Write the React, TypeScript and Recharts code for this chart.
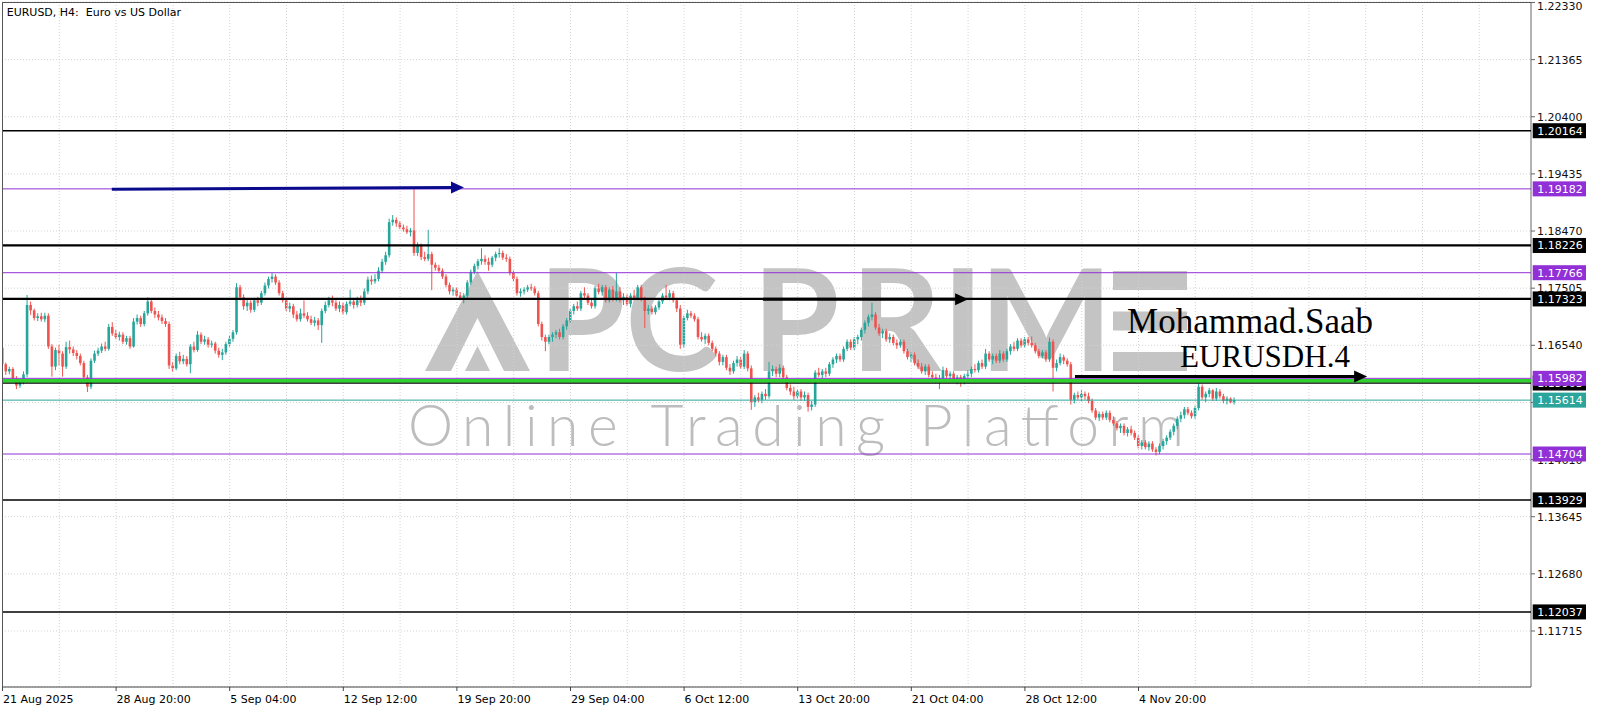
import React from "react";
import { ComposedChart, Bar, XAxis, YAxis, CartesianGrid, ReferenceLine } from "recharts";

const W = 1600;
const H = 711;
const FONT = "DejaVu Sans";
const BULL = "#26a69a";
const BEAR = "#ef5350";
const PURPLE = "#9130d6";
const TEAL = "#2ba59b";
const GREEN = "#2ed12e";
const NAVY = "#0a0a8c";
const MARK = "#c4c4c4";

// EURUSD H4 candles, price in pips above 1.1000
const OPEN = [
  650, 622, 610, 614, 598, 586, 592, 605, 722, 713, 700, 703, 698, 704, 652, 618,
  646, 640, 618, 651, 647, 641, 636, 624, 600, 584, 628, 640, 645, 652, 648, 685,
  674, 668, 672, 660, 666, 652, 694, 700, 690, 708, 728, 712, 706, 701, 695, 690,
  620, 615, 636, 627, 631, 622, 652, 646, 672, 660, 664, 655, 657, 645, 638, 642,
  656, 665, 676, 752, 735, 720, 726, 714, 730, 726, 742, 755, 766, 770, 760, 742,
  730, 716, 720, 706, 698, 708, 704, 698, 692, 696, 688, 712, 722, 730, 726, 716,
  722, 710, 724, 728, 722, 730, 726, 745, 765, 762, 766, 780, 795, 806, 862, 866,
  860, 853, 850, 845, 848, 810, 822, 803, 800, 808, 790, 785, 780, 770, 756, 745,
  748, 738, 734, 738, 760, 778, 788, 796, 800, 795, 790, 802, 808, 810, 802, 800,
  776, 766, 742, 745, 748, 752, 750, 742, 690, 668, 660, 668, 672, 676, 668, 686,
  696, 712, 720, 716, 742, 738, 726, 720, 750, 744, 752, 730, 748, 732, 745, 730,
  736, 724, 738, 734, 752, 732, 712, 716, 710, 718, 728, 738, 735, 742, 730, 716,
  655, 700, 708, 704, 698, 668, 664, 670, 658, 648, 640, 626, 634, 616, 610, 624,
  630, 618, 640, 615, 558, 566, 562, 572, 568, 610, 614, 606, 616, 600, 582, 576,
  568, 576, 566, 570, 550, 554, 608, 604, 610, 606, 622, 630, 636, 630, 648, 660,
  650, 664, 668, 680, 692, 702, 706, 684, 674, 678, 664, 668, 658, 654, 660, 644,
  634, 638, 624, 618, 610, 618, 604, 600, 594, 598, 612, 602, 606, 596, 600, 592,
  602, 606, 614, 612, 624, 618, 640, 630, 636, 628, 640, 630, 644, 652, 648, 662,
  654, 664, 658, 654, 644, 636, 642, 630, 660, 616, 624, 634, 628, 622, 562, 570,
  566, 572, 568, 560, 544, 532, 538, 532, 540, 528, 522, 514, 518, 506, 512, 506,
  498, 484, 490, 482, 488, 478, 474, 484, 492, 498, 508, 518, 530, 536, 546, 540,
  534, 548, 584, 566, 572, 578, 564, 576, 568, 560, 564, 558,
];
const HIGH = [
  655, 625, 618, 617, 602, 596, 610, 739, 728, 716, 708, 709, 709, 708, 656, 650,
  655, 644, 660, 662, 652, 646, 640, 628, 604, 632, 645, 650, 657, 660, 690, 693,
  680, 677, 676, 670, 670, 700, 706, 704, 712, 735, 732, 718, 712, 706, 700, 694,
  626, 640, 643, 638, 636, 656, 660, 678, 676, 670, 668, 662, 660, 650, 648, 660,
  670, 680, 759, 756, 740, 732, 730, 734, 736, 746, 760, 770, 776, 774, 764, 746,
  734, 726, 724, 712, 716, 730, 710, 704, 702, 700, 716, 728, 736, 738, 730, 728,
  726, 728, 748, 734, 736, 738, 750, 770, 772, 774, 786, 800, 812, 868, 874, 870,
  864, 858, 856, 852, 918, 828, 826, 812, 849, 812, 794, 790, 784, 774, 760, 752,
  752, 744, 742, 764, 782, 792, 800, 818, 806, 802, 805, 812, 818, 814, 808, 804,
  780, 770, 750, 752, 756, 758, 754, 746, 694, 672, 672, 676, 680, 682, 690, 700,
  716, 724, 728, 746, 752, 742, 732, 754, 758, 756, 756, 752, 754, 776, 752, 742,
  740, 742, 748, 756, 756, 736, 722, 720, 722, 732, 742, 756, 748, 746, 734, 722,
  704, 714, 712, 708, 702, 676, 674, 674, 662, 652, 644, 638, 638, 622, 628, 636,
  634, 646, 644, 620, 570, 574, 576, 580, 626, 620, 618, 622, 620, 604, 588, 584,
  580, 580, 576, 574, 560, 612, 616, 614, 616, 626, 634, 640, 640, 652, 664, 664,
  668, 672, 684, 696, 706, 726, 710, 690, 682, 682, 674, 672, 664, 664, 664, 648,
  642, 642, 630, 624, 622, 622, 610, 606, 604, 618, 616, 610, 610, 604, 604, 606,
  612, 618, 622, 628, 630, 648, 644, 640, 640, 646, 644, 648, 656, 660, 666, 666,
  668, 668, 669, 658, 648, 646, 646, 667, 664, 630, 640, 638, 632, 626, 574, 576,
  578, 576, 574, 564, 548, 542, 542, 544, 544, 534, 526, 522, 522, 516, 518, 510,
  502, 494, 494, 492, 492, 482, 488, 496, 502, 512, 522, 534, 542, 550, 550, 544,
  552, 590, 588, 576, 582, 580, 582, 580, 572, 568, 566, 566,
];
const LOW = [
  616, 604, 605, 594, 580, 582, 588, 600, 705, 696, 695, 694, 693, 648, 601, 612,
  620, 601, 614, 640, 636, 630, 620, 596, 575, 580, 624, 636, 641, 644, 645, 670,
  664, 662, 656, 655, 648, 650, 689, 685, 686, 704, 708, 700, 696, 690, 685, 614,
  609, 612, 622, 622, 618, 607, 642, 643, 656, 655, 650, 650, 640, 633, 629, 638,
  652, 660, 672, 730, 714, 712, 709, 710, 720, 722, 738, 750, 760, 756, 738, 726,
  712, 710, 700, 694, 694, 700, 694, 688, 686, 680, 658, 708, 718, 720, 712, 710,
  706, 706, 720, 716, 718, 720, 722, 740, 756, 758, 762, 776, 790, 802, 856, 854,
  850, 846, 842, 838, 805, 805, 798, 796, 796, 747, 780, 776, 766, 752, 740, 738,
  735, 730, 725, 734, 756, 774, 782, 790, 790, 780, 786, 796, 802, 798, 795, 772,
  762, 738, 736, 740, 744, 746, 738, 686, 662, 644, 656, 660, 666, 664, 664, 680,
  692, 706, 712, 712, 734, 722, 716, 716, 740, 738, 726, 726, 728, 728, 726, 722,
  720, 718, 730, 730, 728, 683, 706, 706, 706, 714, 724, 732, 730, 726, 710, 648,
  650, 696, 700, 694, 664, 660, 656, 654, 644, 636, 620, 620, 612, 604, 606, 618,
  614, 614, 610, 545, 550, 558, 556, 562, 564, 602, 600, 600, 596, 578, 570, 562,
  564, 560, 560, 542, 544, 550, 600, 598, 600, 602, 616, 624, 626, 626, 644, 646,
  646, 656, 662, 674, 686, 696, 680, 670, 666, 660, 658, 654, 648, 650, 640, 630,
  626, 620, 614, 606, 604, 600, 594, 590, 580, 594, 598, 594, 592, 588, 584, 588,
  596, 600, 608, 608, 614, 614, 626, 622, 624, 624, 626, 626, 638, 644, 644, 650,
  650, 654, 650, 640, 632, 632, 626, 626, 576, 610, 620, 622, 618, 554, 556, 562,
  560, 562, 556, 540, 528, 526, 528, 528, 524, 518, 510, 506, 502, 500, 502, 494,
  480, 478, 478, 476, 474, 468, 470, 478, 486, 494, 502, 512, 524, 530, 536, 530,
  530, 544, 562, 558, 566, 560, 560, 564, 556, 554, 556, 554,
];
const CLOSE = [
  622, 610, 614, 598, 586, 592, 605, 722, 713, 700, 703, 698, 704, 652, 618, 646,
  640, 618, 651, 647, 641, 636, 624, 600, 584, 628, 640, 645, 652, 648, 685, 674,
  668, 672, 660, 666, 652, 694, 700, 690, 708, 728, 712, 706, 701, 695, 690, 620,
  615, 636, 627, 631, 622, 652, 646, 672, 660, 664, 655, 657, 645, 638, 642, 656,
  665, 676, 752, 735, 720, 726, 714, 730, 726, 742, 755, 766, 770, 760, 742, 730,
  716, 720, 706, 698, 708, 704, 698, 692, 696, 688, 712, 722, 730, 726, 716, 722,
  710, 724, 728, 722, 730, 726, 745, 765, 762, 766, 780, 795, 806, 862, 866, 860,
  853, 850, 845, 848, 810, 822, 803, 800, 808, 790, 785, 780, 770, 756, 745, 748,
  738, 734, 738, 760, 778, 788, 796, 800, 795, 790, 802, 808, 810, 802, 800, 776,
  766, 742, 745, 748, 752, 750, 742, 690, 668, 660, 668, 672, 676, 668, 686, 696,
  712, 720, 716, 742, 738, 726, 720, 750, 744, 752, 730, 748, 732, 745, 730, 736,
  724, 738, 734, 752, 732, 712, 716, 710, 718, 728, 738, 735, 742, 730, 716, 655,
  700, 708, 704, 698, 668, 664, 670, 658, 648, 640, 626, 634, 616, 610, 624, 630,
  618, 640, 615, 558, 566, 562, 572, 568, 610, 614, 606, 616, 600, 582, 576, 568,
  576, 566, 570, 550, 554, 608, 604, 610, 606, 622, 630, 636, 630, 648, 660, 650,
  664, 668, 680, 692, 702, 706, 684, 674, 678, 664, 668, 658, 654, 660, 644, 634,
  638, 624, 618, 610, 618, 604, 600, 594, 598, 612, 602, 606, 596, 600, 592, 602,
  606, 614, 612, 624, 618, 640, 630, 636, 628, 640, 630, 644, 652, 648, 662, 654,
  664, 658, 654, 644, 636, 642, 630, 660, 616, 624, 634, 628, 622, 562, 570, 566,
  572, 568, 560, 544, 532, 538, 532, 540, 528, 522, 514, 518, 506, 512, 506, 498,
  484, 490, 482, 488, 478, 474, 484, 492, 498, 508, 518, 530, 536, 546, 540, 534,
  548, 584, 566, 572, 578, 564, 576, 568, 560, 564, 558, 561.4,
];

const TICK_BARS = [0, 32, 64, 96, 128, 160, 192, 224, 256, 288, 320];
const TICK_LABELS = [
  "21 Aug 2025", "28 Aug 20:00", "5 Sep 04:00", "12 Sep 12:00", "19 Sep 20:00",
  "29 Sep 04:00", "6 Oct 12:00", "13 Oct 20:00", "21 Oct 04:00", "28 Oct 12:00", "4 Nov 20:00",
];
const PRICE_TICKS = [
  1.11715, 1.1268, 1.13645, 1.1461, 1.15575, 1.1654, 1.17505, 1.1847, 1.19435, 1.204, 1.21365, 1.2233,
];

// horizontal levels drawn on the chart (bottom to top of the stack)
const LEVEL_PRICES = [
  1.20164, 1.19182, 1.18226, 1.17766, 1.17323, 1.15903, 1.1594, 1.15982, 1.15614, 1.14704, 1.13929, 1.12037,
];
const LEVEL_STYLE: Record<number, { color: string; width: number; tag?: string }> = {
  1.20164: { color: "#000", width: 1.5, tag: "#000" },
  1.19182: { color: PURPLE, width: 1, tag: PURPLE },
  1.18226: { color: "#000", width: 2.2, tag: "#000" },
  1.17766: { color: PURPLE, width: 1, tag: PURPLE },
  1.17323: { color: "#000", width: 2.2, tag: "#000" },
  1.15903: { color: "#000", width: 1.5, tag: "#000" },
  1.1594: { color: GREEN, width: 3.5 },
  1.15982: { color: PURPLE, width: 1, tag: PURPLE },
  1.15614: { color: TEAL, width: 1, tag: TEAL },
  1.14704: { color: PURPLE, width: 1, tag: PURPLE },
  1.13929: { color: "#000", width: 1.5, tag: "#000" },
  1.12037: { color: "#000", width: 1.5, tag: "#000" },
};

// arrows: [bar, price] start and end
const ARROWS = [
  { from: [30.8, 1.19176], to: [130, 1.19206], color: NAVY },
  { from: [214.2, 1.17318], to: [272, 1.17318], color: "#000" },
  { from: [302.1, 1.16011], to: [384.4, 1.16011], color: "#000" },
];

const X_DOMAIN: [number, number] = [-0.14, 430.56];
const Y_DOMAIN: [number, number] = [1.10769, 1.22338];
const GRID_BARS = Array.from({ length: 26 }, (_, k) => (k + 1) * 16);

const pip = (n: number) => 1.1 + n / 10000;

const rows = CLOSE.map((c, i) => ({
  i,
  open: pip(OPEN[i]),
  high: pip(HIGH[i]),
  low: pip(LOW[i]),
  close: pip(c),
  range: [pip(LOW[i]), pip(HIGH[i])],
}));

const Candle = (props: any) => {
  const { x, y, width, height, payload } = props;
  if (x == null || !payload) return null;
  const top = Math.min(y, y + height);
  const h = Math.abs(height);
  const { open, close, high, low } = payload;
  const k = high > low ? h / (high - low) : 0;
  const yOf = (p: number) => top + (high - p) * k;
  const bTop = yOf(Math.max(open, close));
  const bBot = yOf(Math.min(open, close));
  const color = close >= open ? BULL : BEAR;
  const cx = x + width / 2;
  return (
    <g>
      <line x1={cx} x2={cx} y1={top} y2={top + h} stroke={color} strokeWidth={1} />
      <rect x={cx - 1.3} y={bTop} width={2.6} height={Math.max(bBot - bTop, 1)} fill={color} />
    </g>
  );
};

const DateTick = (props: any) => {
  const { x, y, payload } = props;
  const k = TICK_BARS.indexOf(payload.value);
  return (
    <text x={x + 0.5} y={y} dy="0.9em" textAnchor="start" fontSize={11} fontFamily={FONT} fill="#000">
      {TICK_LABELS[k]}
    </text>
  );
};

const PriceTick = (props: any) => {
  const { x, y, payload } = props;
  return (
    <text x={x} y={Math.max(y, 6)} dy="0.36em" textAnchor="start" fontSize={11} fontFamily={FONT} fill="#111">
      {Number(payload.value).toFixed(5)}
    </text>
  );
};

const levelShape = (price: number) => (p: any) => {
  const s = LEVEL_STYLE[price];
  const { x1, x2, y1 } = p;
  return (
    <g>
      <line x1={x1} x2={x2} y1={y1} y2={y1} stroke={s.color} strokeWidth={s.width} />
      {s.tag && (
        <g>
          <rect x={x2 + 1.7} y={y1 - 7.5} width={53.3} height={15} fill={s.tag} />
          <text x={x2 + 6.3} y={y1} dy="0.36em" fontSize={11} fontFamily={FONT} fill="#fff">
            {price.toFixed(5)}
          </text>
        </g>
      )}
    </g>
  );
};

const arrowShape = (color: string) => (p: any) => {
  const { x1, y1, x2, y2 } = p;
  const a = Math.atan2(y2 - y1, x2 - x1);
  const L = 13;
  const hw = 6;
  const bx = x2 - L * Math.cos(a);
  const by = y2 - L * Math.sin(a);
  const pts = [
    `${x2},${y2}`,
    `${bx - hw * Math.sin(a)},${by + hw * Math.cos(a)}`,
    `${bx + hw * Math.sin(a)},${by - hw * Math.cos(a)}`,
  ].join(" ");
  return (
    <g>
      <line x1={x1} y1={y1} x2={bx + 1} y2={by} stroke={color} strokeWidth={3} />
      <polygon points={pts} fill={color} />
    </g>
  );
};

// logo letters drawn as text, except the stylised A and E
const WATERMARK = [
  ["P", 582], ["C", 672], ["P", 796], ["R", 896], ["I", 963], ["M", 1046],
] as const;

const Logo = () => (
  <g fill={MARK}>
    <polygon points="425,371 477.5,271 530,371" />
    <polygon points="451,371 477.5,318 504,371" fill="#fff" />
    <polygon points="465,371 477.5,346 490,371" />
    <rect x={1113} y={271} width={74} height={19} />
    <rect x={1113} y={311.5} width={74} height={19} />
    <rect x={1113} y={352} width={74} height={19} />
    {WATERMARK.map(([ch, cx], k) => (
      <text key={k} x={cx} y={371} textAnchor="middle" fontSize={141} fontWeight={700} fontFamily="Lato">
        {ch}
      </text>
    ))}
  </g>
);

export default function App() {
  const layer: React.CSSProperties = { position: "absolute", left: 0, top: 0 };
  return (
    <div style={{ position: "absolute", left: 0, top: 0, width: W, height: H, background: "#fff", overflow: "hidden" }}>
      <svg width={W} height={H} style={layer}>
        <Logo />
        <text x={408} y={446} fontSize={57} fontWeight={300} fontFamily="Lato" fill="#bdbdbd" textLength={776} lengthAdjust="spacing">
          Online Trading Platform
        </text>
      </svg>

      <div style={layer}>
        <ComposedChart width={W} height={H} data={rows} margin={{ top: 2, right: 0, bottom: 0, left: 2 }}>
          <CartesianGrid horizontal vertical={false} stroke="#d2d2d2" strokeDasharray="1 2" />
          {GRID_BARS.map((b) => (
            <ReferenceLine key={b} x={b} stroke="#d2d2d2" strokeDasharray="1 2" />
          ))}
          <XAxis
            type="number"
            dataKey="i"
            domain={X_DOMAIN}
            allowDataOverflow
            ticks={TICK_BARS}
            interval={0}
            tick={<DateTick />}
            tickSize={4}
            height={24}
            stroke="#444"
            tickLine={{ stroke: "#444" }}
          />
          <YAxis
            orientation="right"
            width={69}
            domain={Y_DOMAIN}
            allowDataOverflow
            ticks={PRICE_TICKS}
            interval={0}
            tick={<PriceTick />}
            tickSize={4}
            stroke="#666"
            tickLine={{ stroke: "#666" }}
          />
          <Bar dataKey="range" shape={Candle} barSize={3} isAnimationActive={false} />
        </ComposedChart>
      </div>

      <div style={layer}>
        <ComposedChart width={W} height={H} data={rows} margin={{ top: 2, right: 69, bottom: 24, left: 2 }}>
          <XAxis type="number" dataKey="i" domain={X_DOMAIN} allowDataOverflow hide />
          <YAxis domain={Y_DOMAIN} allowDataOverflow hide />
          {LEVEL_PRICES.map((p) => (
            <ReferenceLine key={p} y={p} shape={levelShape(p)} />
          ))}
          {ARROWS.map((a, k) => (
            <ReferenceLine
              key={`arrow-${k}`}
              segment={[
                { x: a.from[0], y: a.from[1] },
                { x: a.to[0], y: a.to[1] },
              ]}
              shape={arrowShape(a.color)}
            />
          ))}
        </ComposedChart>
      </div>

      <svg width={W} height={H} style={{ ...layer, pointerEvents: "none" }}>
        <line x1={2} y1={2.5} x2={1531} y2={2.5} stroke="#555" strokeWidth={1} />
        <line x1={2.5} y1={2} x2={2.5} y2={687} stroke="#555" strokeWidth={1} />
        <text x={6.7} y={15.5} fontSize={11} fontFamily={FONT} fill="#000" xmlSpace="preserve" style={{ whiteSpace: "pre" }}>
          {"EURUSD, H4:  Euro vs US Dollar"}
        </text>
        <text x={1127} y={333} fontSize={35} fontFamily="Liberation Serif" fill="#000" textLength={246} lengthAdjust="spacingAndGlyphs">
          Mohammad.Saab
        </text>
        <text x={1180} y={367} fontSize={31} fontFamily="Liberation Serif" fill="#000" textLength={170} lengthAdjust="spacingAndGlyphs">
          EURUSDH.4
        </text>
      </svg>
    </div>
  );
}
